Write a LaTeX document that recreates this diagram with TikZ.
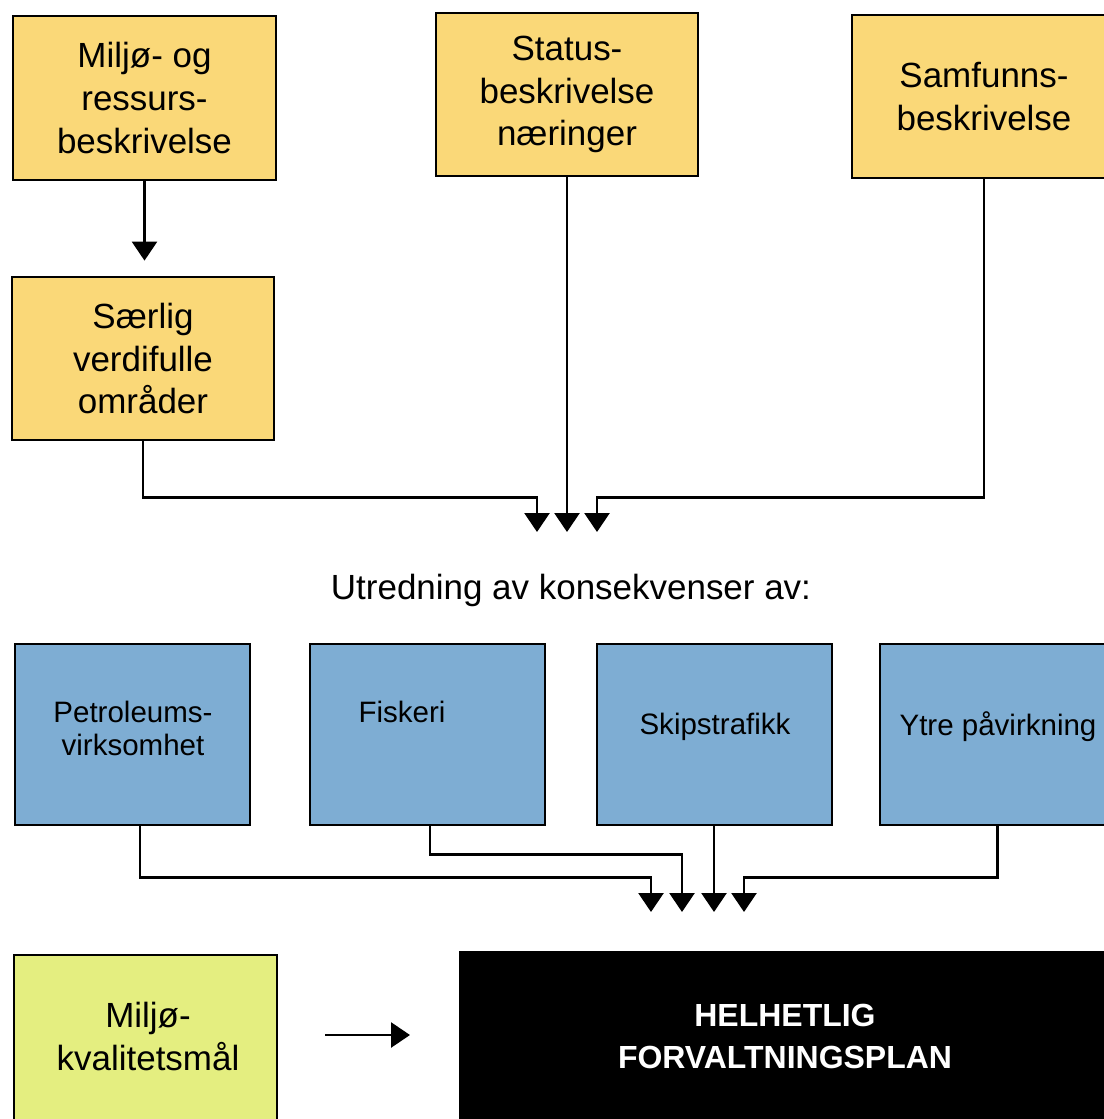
\documentclass[tikz,border=0pt]{standalone}
\usepackage{fontspec}
\setmainfont{Liberation Sans}
\usetikzlibrary{arrows.meta}
\definecolor{ylw}{RGB}{250,216,120}
\definecolor{blu}{RGB}{126,173,211}
\definecolor{grn}{RGB}{228,238,128}
\tikzset{
  boxbase/.style={draw=black, line width=1.6pt, inner sep=0pt, rectangle},
  ybox/.style={boxbase, fill=ylw, align=center, font=\fontsize{19.9}{24.4}\selectfont},
  bbox/.style={boxbase, fill=blu},
  btext/.style={align=center, inner sep=0pt, font=\fontsize{16.8}{18.8}\selectfont},
  conn/.style={line width=1.5pt, -{Triangle[width=0.5cm,length=0.38cm]}},
}
\begin{document}
\begin{tikzpicture}[x=0.02cm, y=-0.02cm]
\useasboundingbox (0,0) rectangle (1104,1119);
\fill[white] (0,0) rectangle (1104,1119);
\begin{scope}
\clip (0,0) rectangle (1104,1119);
% top yellow boxes
\node[ybox, minimum width=5.26cm, minimum height=3.28cm] (miljo) at (144.5,98) {Miljø- og\\ressurs-\\beskrivelse};
\node[ybox, minimum width=5.24cm, minimum height=3.26cm] (status) at (567,94.5) {Status-\\beskrivelse\\næringer};
\node[ybox, minimum width=5.28cm, minimum height=3.26cm] (samf) at (984,96.5) {Samfunns-\\beskrivelse};
\node[ybox, minimum width=5.24cm, minimum height=3.26cm] (saerlig) at (143,358.5) {Særlig\\verdifulle\\områder};
% arrow targets
\coordinate (t1) at (537,532);
\coordinate (t2) at (567,532);
\coordinate (t3) at (597,532);
\draw[conn, shorten >=0.3cm] (miljo.south) -- (miljo.south |- saerlig.north);
\draw[conn] (saerlig.south) -- ++(0,56) -| (t1);
\draw[conn] (status.south) -- (t2);
\draw[conn] (samf.south) -- ++(0,318) -| (t3);
% heading
\node[inner sep=0pt, font=\fontsize{19.9}{24.4}\selectfont] (utr) at (571,590) {Utredning av konsekvenser av:};
% blue boxes
\node[bbox, minimum width=4.7cm, minimum height=3.62cm] (petro) at (132.5,734.5) {};
\node[bbox, minimum width=4.7cm, minimum height=3.62cm] (fisk) at (427.5,734.5) {};
\node[bbox, minimum width=4.7cm, minimum height=3.62cm] (skip) at (714.5,734.5) {};
\node[bbox, minimum width=4.7cm, minimum height=3.62cm] (ytre) at (997.5,734.5) {};
\node[btext] (petrot) at (133,728.5) {Petroleums-\\virksomhet};
\node[btext] (fiskt) at (402,712) {Fiskeri};
\node[btext] (skipt) at (715,727) {Skipstrafikk};
\node[btext] (ytret) at (998,727) {Ytre påvirkning};
% arrow targets 2
\coordinate (b1) at (651,912);
\coordinate (b2) at (682,912);
\coordinate (b3) at (714,912);
\coordinate (b4) at (744,912);
\draw[conn] ([xshift=0.15cm]petro.south) -- ++(0,51) -| (b1);
\draw[conn] ([xshift=0.05cm]fisk.south) -- ++(0,28) -| (b2);
\draw[conn] (skip.south -| b3) -- (b3);
\draw[conn] (ytre.south) -- ++(0,51) -| (b4);
% bottom
\node[boxbase, fill=grn, minimum width=5.26cm, minimum height=3.5cm] (green) at (145.5,1042.5) {};
\node[align=center, inner sep=0pt, font=\fontsize{19.9}{24.4}\selectfont] (greent) at (148,1036.5) {Miljø-\\kvalitetsmål};
\node[boxbase, fill=black, minimum width=13.1cm, minimum height=3.56cm] (plan) at (787.5,1041) {};
\node[align=center, inner sep=0pt, text=white, font=\bfseries\fontsize{18.2}{23.9}\selectfont] (plant) at (785,1036) {HELHETLIG\\FORVALTNINGSPLAN};
\coordinate (a0) at (325,1035);
\coordinate (a1) at (410,1035);
\draw[conn] (a0) -- (a1);
\end{scope}
\end{tikzpicture}
\end{document}
